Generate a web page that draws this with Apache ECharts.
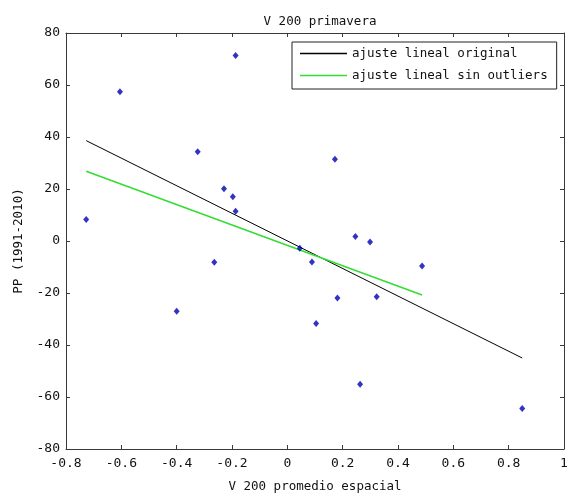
<!DOCTYPE html>
<html>
<head>
<meta charset="utf-8">
<script src="https://cdn.jsdelivr.net/npm/echarts@6/dist/echarts.min.js"></script>
<style>
  html, body { margin: 0; padding: 0; background: #fff; }
  #chart { width: 572px; height: 498px; }
</style>
</head>
<body>
<div id="chart"></div>
<script>
// Spring V200 spatial mean vs precipitation anomaly, 1991-2010
const v200 = [-0.727, -0.605, -0.187, -0.324, -0.229, -0.197, -0.187, 0.045,
              0.172, 0.246, 0.299, -0.264, -0.400, 0.089, 0.487, 0.181,
              0.323, 0.104, 0.263, 0.849];
const pp = [8.3, 57.4, 71.3, 34.3, 20.1, 17.0, 11.4, -2.8,
            31.4, 1.7, -0.4, -8.2, -27.0, -8.1, -9.6, -21.9,
            -21.4, -31.7, -55.1, -64.4];

// Fitted lines (end points)
const fitOriginal = [[-0.727, 38.6], [0.849, -45.0]];
const fitNoOutliers = [[-0.727, 26.8], [0.487, -20.8]];

const xTicks = { min: -0.8, max: 1, interval: 0.2 };
const yTicks = { min: -80, max: 80, interval: 20 };

const FONT = 'DejaVu Sans Mono';
const axisColor = '#3a3a3a';
const GREEN = '#33dd33';

const chart = echarts.init(document.getElementById('chart'), null, { renderer: 'canvas' });

const points = v200.map((x, i) => [x, pp[i]]);

function boxAxis(base, extra) {
  return Object.assign({
    type: 'value',
    min: base.min, max: base.max, interval: base.interval,
    splitLine: { show: false },
    axisLine: { show: true, onZero: false, lineStyle: { color: axisColor, width: 1 } },
    axisTick: { show: true, inside: true, length: 4, lineStyle: { color: axisColor } }
  }, extra);
}

chart.setOption({
  animation: false,
  backgroundColor: '#ffffff',
  title: {
    text: 'V 200 primavera',
    left: 315, top: 10, textAlign: 'center',
    textStyle: { fontFamily: FONT, fontSize: 12.5, fontWeight: 'normal', color: '#111' }
  },
  legend: {
    orient: 'vertical',
    left: 292, top: 42,
    padding: [4, 9, 6, 8],
    itemGap: 7, itemWidth: 47, itemHeight: 1.5,
    borderColor: '#222', borderWidth: 1,
    backgroundColor: '#fff',
    data: [
      { name: 'ajuste lineal original', icon: 'rect', itemStyle: { color: '#000' } },
      { name: 'ajuste lineal sin outliers', icon: 'rect', itemStyle: { color: GREEN } }
    ],
    textStyle: { fontFamily: FONT, fontSize: 12.5, color: '#111', lineHeight: 15 }
  },
  grid: { left: 66, top: 33, right: 8, bottom: 49, containLabel: false },
  xAxis: [
    boxAxis(xTicks, {
      position: 'bottom',
      name: 'V 200 promedio espacial', nameLocation: 'middle', nameGap: 31,
      nameTextStyle: { fontFamily: FONT, fontSize: 12.5, color: '#111' },
      axisLabel: { fontFamily: FONT, fontSize: 13, color: '#111', margin: 8 }
    }),
    boxAxis(xTicks, { position: 'top', axisLabel: { show: false } })
  ],
  yAxis: [
    boxAxis(yTicks, {
      position: 'left',
      name: 'PP (1991-2010)', nameLocation: 'middle', nameGap: 40, nameRotate: 90,
      nameTextStyle: { fontFamily: FONT, fontSize: 12.5, color: '#111' },
      axisLabel: { fontFamily: FONT, fontSize: 13, color: '#111', margin: 6 }
    }),
    boxAxis(yTicks, { position: 'right', axisLabel: { show: false } })
  ],
  series: [
    {
      type: 'scatter', name: 'datos',
      data: points,
      symbol: 'diamond', symbolSize: [6, 7],
      itemStyle: { color: '#0000b4' },
      z: 3
    },
    {
      type: 'line', name: 'ajuste lineal original',
      data: fitOriginal, symbol: 'none',
      lineStyle: { color: '#000000', width: 1 },
      itemStyle: { color: '#000000' },
      z: 2
    },
    {
      type: 'line', name: 'ajuste lineal sin outliers',
      data: fitNoOutliers, symbol: 'none',
      lineStyle: { color: GREEN, width: 1.6 },
      itemStyle: { color: GREEN },
      z: 2
    }
  ]
});
</script>
</body>
</html>
